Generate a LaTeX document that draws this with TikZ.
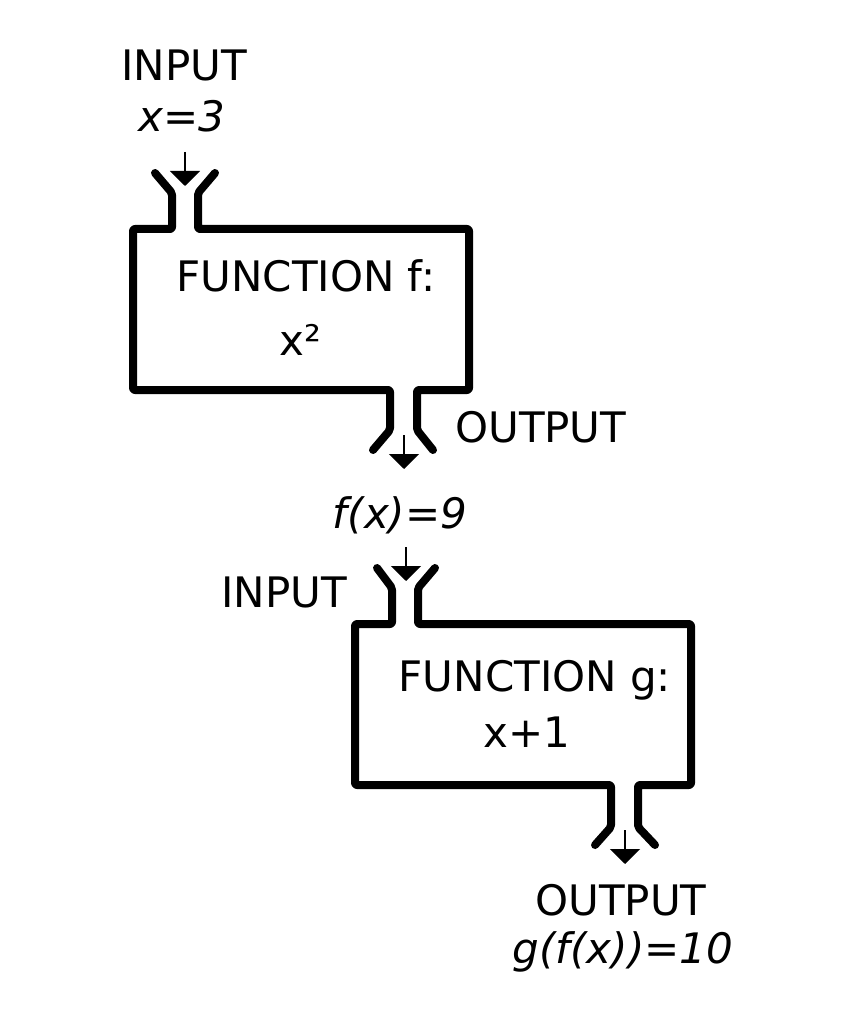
\documentclass[tikz,border=0pt]{standalone}
\usepackage{fontspec}
\setmainfont{DejaVu Sans}
\usetikzlibrary{arrows.meta}
\tikzset{
  pipe/.style={draw=black,line width=8pt,line cap=round,line join=round,rounded corners=2pt},
  flowarrow/.style={-{Triangle[length=15pt,width=30pt]},line width=2.2pt,draw=black},
  lbl/.style={anchor=base,inner sep=0pt,font=\fontsize{42}{50}\selectfont}
}
\begin{document}
\begin{tikzpicture}[x=1pt,y=-1pt]
  \useasboundingbox (0,0) rectangle (840,1024);
  % first function
  \node[lbl] (inA) at (184,81) {INPUT};
  \node[lbl] (valA) at (182,132) {\textit{x=3}};
  \coordinate (arrA1) at (185,152);
  \coordinate (arrA2) at (185,186);
  \draw[flowarrow] (arrA1) -- (arrA2);
  \draw[pipe] (155,173) -- (172,193) -- (172,229) -- (133,229) -- (133,390)
    -- (390,390) -- (390,430) -- (373,450);
  \draw[pipe] (215,173) -- (198,193) -- (198,229) -- (469,229) -- (469,390)
    -- (417,390) -- (417,430) -- (433,450);
  \node[lbl] (funA) at (306,291) {FUNCTION f:};
  \node[lbl] (bodyA) at (300,355) {x²};
  \node[lbl,anchor=base west] (outA) at (455,442) {OUTPUT};
  \coordinate (arrB1) at (404,435);
  \coordinate (arrB2) at (404,469);
  \draw[flowarrow] (arrB1) -- (arrB2);
  \node[lbl] (valB) at (400,528) {\textit{f(x)=9}};
  % second function
  \coordinate (arrC1) at (406,547);
  \coordinate (arrC2) at (406,581);
  \draw[flowarrow] (arrC1) -- (arrC2);
  \node[lbl] (inB) at (284,607) {INPUT};
  \draw[pipe] (377,568) -- (392,588) -- (392,624) -- (355,624) -- (355,785)
    -- (611,785) -- (611,827) -- (595,845);
  \draw[pipe] (435,568) -- (418,588) -- (418,624) -- (691,624) -- (691,785)
    -- (638,785) -- (638,827) -- (655,845);
  \node[lbl] (funB) at (535,691) {FUNCTION g:};
  \node[lbl] (bodyB) at (527,747) {x+1};
  \coordinate (arrD1) at (625,830);
  \coordinate (arrD2) at (625,864);
  \draw[flowarrow] (arrD1) -- (arrD2);
  \node[lbl] (outB) at (621,915) {OUTPUT};
  \node[lbl] (valC) at (623,963) {\textit{g(f(x))=10}};
\end{tikzpicture}
\end{document}
